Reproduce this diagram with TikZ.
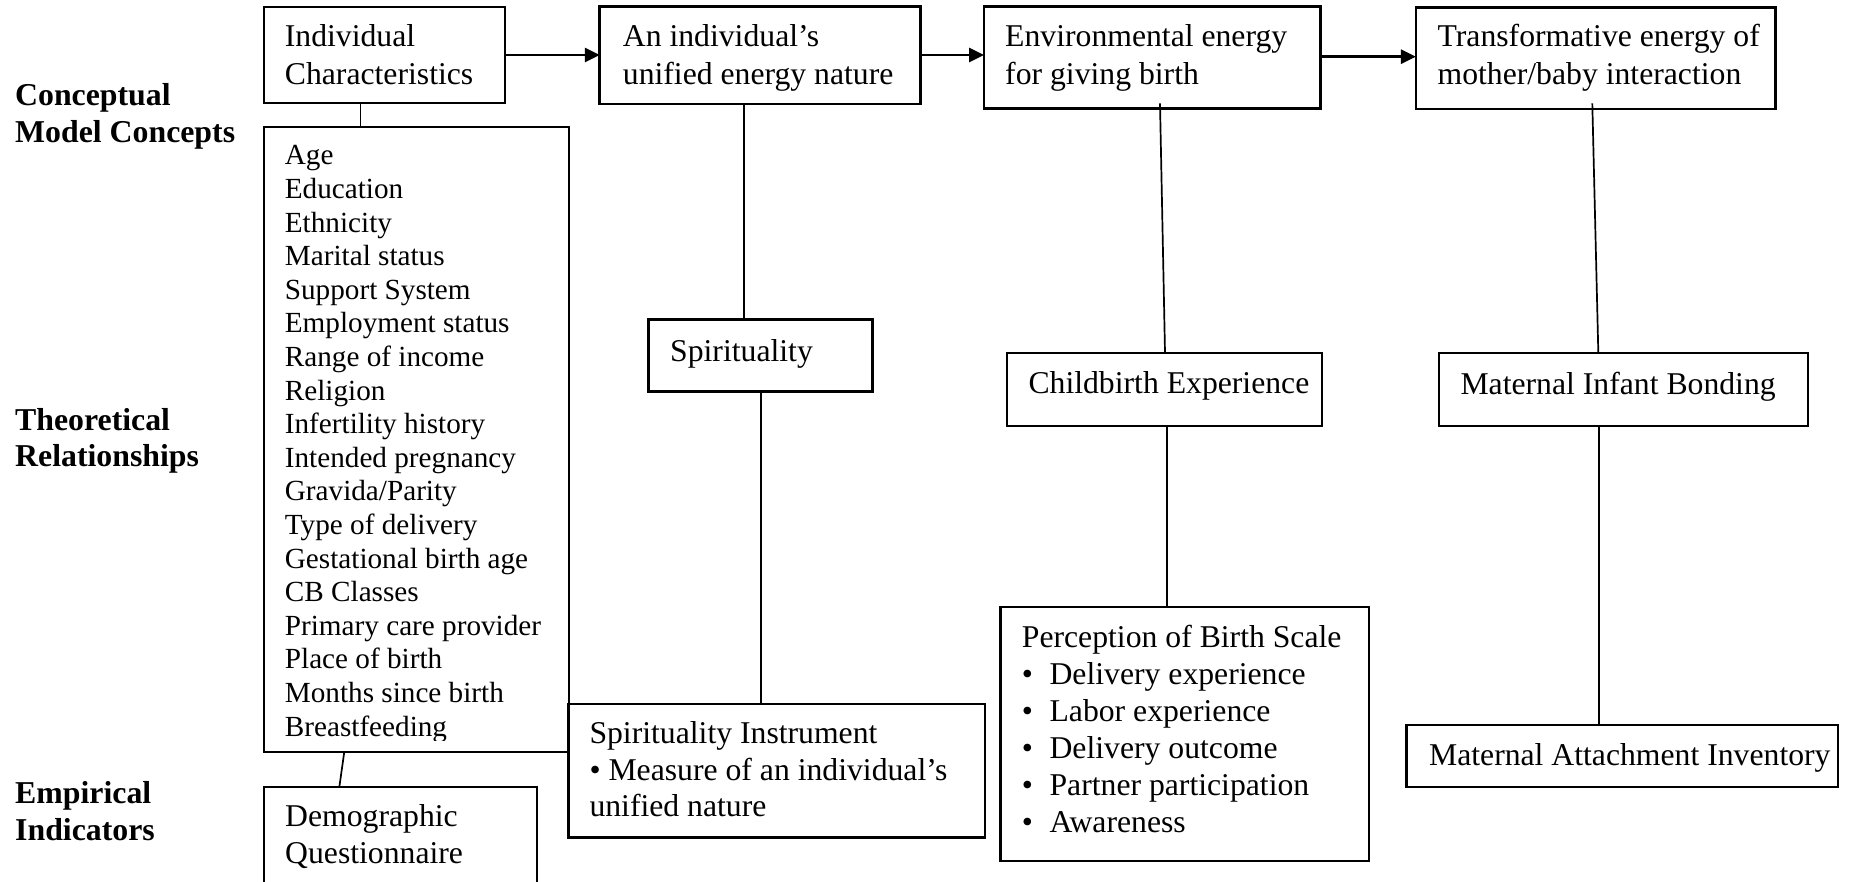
\documentclass[tikz,border=0pt]{standalone}
\usepackage{fontspec}
\setmainfont{Liberation Serif}
\usetikzlibrary{arrows.meta,fit,calc}
\newcommand{\mlines}[1]{\begin{tabular}[t]{@{}l@{}}#1\end{tabular}}
\begin{document}
\begin{tikzpicture}[x=1pt,y=-1pt,
  thinbox/.style={draw, line width=2pt, inner sep=0pt, outer sep=0pt, fit={#1}},
  thickbox/.style={draw, line width=2.8pt, inner sep=0pt, outer sep=0pt, fit={#1}},
  txt/.style={inner sep=0pt, anchor=base west, font=\fontsize{31.7}{36.7}\selectfont},
  toptxt/.style={txt, font=\fontsize{31.7}{37.5}\selectfont},
  lsttxt/.style={inner sep=0pt, anchor=base west, font=\fontsize{29.2}{33.6}\selectfont},
  lbl/.style={inner sep=0pt, anchor=base west, font=\fontsize{31.8}{36.7}\selectfont\bfseries},
  conn/.style={draw, line width=1.7pt},
  arr/.style={draw, line width=2.7pt, -{Triangle[length=15pt,width=14pt]}}
]
\path[use as bounding box] (0,0) rectangle (1851,882);
\clip (0,0) rectangle (1851,882);

% row labels
\node[lbl] (lc) at (15,106) {\mlines{Conceptual\\Model Concepts}};
\node[lbl] (lt) at (15,430) {\mlines{Theoretical\\Relationships}};
\node[lbl] (le) at (15,803.3) {\mlines{Empirical\\Indicators}};

% top row
\node[thinbox={(264.1,6.7) (505,103.3)}] (ic) {};
\node[toptxt] (icT) at (284.7,46.7) {\mlines{Individual\\Characteristics}};
\node[thickbox={(599.8,6.7) (920.8,104)}] (uni) {};
\node[toptxt] (uniT) at (622.7,46.7) {\mlines{An individual's\\unified energy nature}};
\node[thickbox={(984,6.7) (1320.7,108.3)}] (env) {};
\node[toptxt] (envT) at (1005,46.7) {\mlines{Environmental energy\\for giving birth}};
\node[thickbox={(1415.9,7.3) (1775.5,109)}] (trans) {};
\node[toptxt] (transT) at (1437.4,46.7) {\mlines{Transformative energy of\\mother/baby interaction}};

% list of characteristics
\node[thinbox={(264.1,126.7) (569.4,751.7)}] (list) {};
\begin{scope}
\clip (264.1,126.7) rectangle (569.4,740.5);
\node[lsttxt] (listT) at (284.7,165) {\mlines{Age\\Education\\Ethnicity\\Marital status\\Support System\\Employment status\\Range of income\\Religion\\Infertility history\\Intended pregnancy\\Gravida/Parity\\Type of delivery\\Gestational birth age\\CB Classes\\Primary care provider\\Place of birth\\Months since birth\\Breastfeeding}};
\end{scope}

% demographic
\node[thinbox={(264.1,787.3) (537,900)}] (demo) {};
\node[txt] (demoT) at (285,826.7) {\mlines{Demographic\\Questionnaire}};

% spirituality
\node[thickbox={(648.3,319.3) (872.7,391.7)}] (spir) {};
\node[txt] (spirT) at (670,361.7) {Spirituality};
\node[thickbox={(568.3,704) (985,837.7)}] (si) {};
\node[txt] (siT) at (589.3,743.3) {\mlines{Spirituality Instrument\\• Measure of an individual's\\unified nature}};

% childbirth
\node[thinbox={(1006.7,352.7) (1322,426)}] (ce) {};
\node[txt] (ceT) at (1028.3,393.3) {Childbirth Experience};
\node[thickbox={(1000.6,607) (1368.9,861)}] (pbs) {};
\node[txt, font=\fontsize{31.7}{37}\selectfont] (pbsT) at (1021.7,647) {\mlines{Perception of Birth Scale\\
\makebox[27.7pt][l]{•}Delivery experience\\
\makebox[27.7pt][l]{•}Labor experience\\
\makebox[27.7pt][l]{•}Delivery outcome\\
\makebox[27.7pt][l]{•}Partner participation\\
\makebox[27.7pt][l]{•}Awareness}};

% maternal
\node[thinbox={(1438.6,352.7) (1807.5,425.6)}] (mib) {};
\node[txt] (mibT) at (1460.3,394.3) {Maternal Infant Bonding};
\node[thickbox={(1406.7,725) (1838,787)}] (mai) {};
\node[txt] (maiT) at (1428.9,765.8) {Maternal Attachment Inventory};

% arrows
\draw[arr] (ic.east |- 0,55) -- (uni.west |- 0,55);
\draw[arr] (uni.east |- 0,55) -- (env.west |- 0,55);
\draw[arr] (env.east |- 0,56.7) -- (trans.west |- 0,56.7);

% connectors
\draw[conn] (ic.south -| 360.6,0) -- (list.north -| 360.6,0);
\draw[conn] (list.south -| 344.3,0) -- (demo.north -| 339.3,0);
\draw[conn] (uni.south -| 744,0) -- (spir.north -| 744,0);
\draw[conn] (spir.south -| 760.7,0) -- (si.north -| 760.7,0);
\draw[conn] ($(env.south -| 1160,0)+(0,-5)$) -- (ce.north -| 1165,0);
\draw[conn] (ce.south -| 1166.7,0) -- (pbs.north -| 1166.7,0);
\draw[conn] ($(trans.south -| 1592.3,0)+(0,-5.7)$) -- (mib.north -| 1598.3,0);
\draw[conn] (mib.south -| 1599,0) -- (mai.north -| 1599,0);
\end{tikzpicture}
\end{document}
